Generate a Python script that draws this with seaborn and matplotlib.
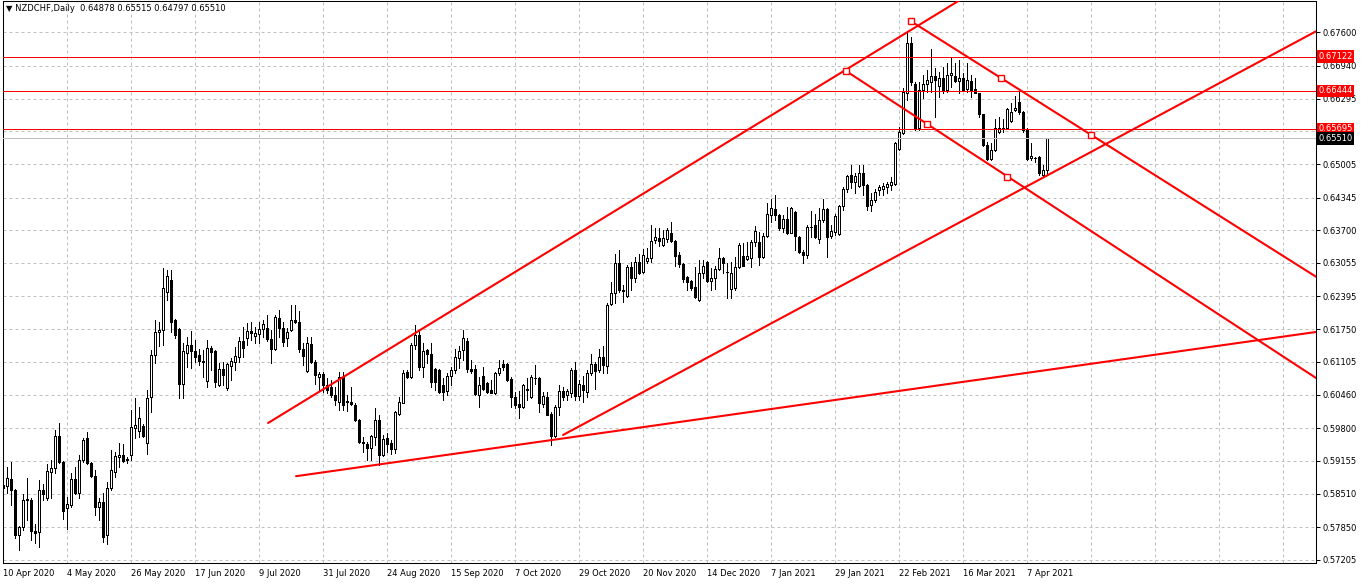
import numpy as np
import pandas as pd
import matplotlib
matplotlib.use("Agg")
import matplotlib.pyplot as plt
import matplotlib.transforms as mtransforms
import seaborn as sns

symbol = "NZDCHF,Daily"

# daily OHLC, 10 Apr 2020 .. mid Apr 2021
opens = [
    .5869, .5867, .5879, .5858, .5770, .5785, .5838, .5839, .5777, .5776,
    .5859, .5843, .5894, .5901, .5964, .5914, .5822, .5829, .5879, .5853,
    .5918, .5960, .5911, .5886, .5825, .5834, .5770, .5863, .5893, .5924,
    .5927, .5920, .5928, .5981, .5974, .5984, .5950, .6042, .6125, .6170,
    .6173, .6249, .6272, .6193, .6175, .6068, .6129, .6144, .6132, .6124,
    .6113, .6074, .6138, .6132, .6066, .6096, .6060, .6103, .6110, .6121,
    .6152, .6157, .6172, .6162, .6165, .6175, .6177, .6155, .6137, .6198,
    .6177, .6157, .6173, .6194, .6190, .6136, .6092, .6146, .6111, .6080,
    .6087, .6065, .6062, .6046, .6032, .6081, .6034, .6031, .6026, .5996,
    .5953, .5949, .5942, .5963, .5997, .5928, .5960, .5951, .5940, .6009,
    .6030, .6090, .6080, .6144, .6164, .6101, .6134, .6127, .6096, .6095,
    .6065, .6054, .6083, .6095, .6118, .6134, .6152, .6096, .6096, .6045,
    .6083, .6070, .6056, .6049, .6088, .6106, .6106, .6076, .6041, .6028,
    .6021, .6058, .6042, .6078, .6079, .6027, .6042, .6009, .5965, .6022,
    .6053, .6045, .6049, .6095, .6044, .6066, .6052, .6088, .6106, .6095,
    .6121, .6103, .6225, .6246, .6306, .6252, .6240, .6298, .6276, .6308,
    .6288, .6309, .6315, .6350, .6354, .6341, .6352, .6365, .6349, .6321,
    .6303, .6277, .6270, .6259, .6232, .6285, .6308, .6271, .6275, .6293,
    .6315, .6288, .6254, .6257, .6297, .6320, .6313, .6315, .6347, .6347,
    .6318, .6359, .6400, .6411, .6401, .6374, .6392, .6365, .6405, .6357,
    .6328, .6321, .6376, .6380, .6352, .6390, .6411, .6359, .6367, .6363,
    .6418, .6451, .6479, .6466, .6457, .6482, .6459, .6420, .6430, .6449,
    .6452, .6455, .6459, .6462, .6531, .6561, .6640, .6738, .6659, .6571,
    .6646, .6659, .6663, .6673, .6654, .6669, .6646, .6676, .6674, .6665,
    .6669, .6648, .6665, .6648, .6640, .6599, .6538, .6510, .6528, .6563,
    .6571, .6571, .6585, .6606, .6623, .6602, .6567, .6512, .6513, .6515,
    .6479, .64878,
]
highs = [
    .5891, .5904, .5914, .5860, .5788, .5851, .5882, .5842, .5792, .5878,
    .5870, .5909, .5917, .5976, .5991, .5916, .5844, .5891, .5904, .5927,
    .5960, .5973, .5914, .5898, .5842, .5852, .5874, .5937, .5934, .5951,
    .5948, .5924, .6016, .6039, .6022, .5989, .6055, .6134, .6193, .6190,
    .6295, .6292, .6292, .6196, .6178, .6147, .6160, .6172, .6154, .6137,
    .6134, .6154, .6142, .6134, .6108, .6111, .6109, .6118, .6140, .6160,
    .6179, .6187, .6190, .6180, .6190, .6193, .6203, .6173, .6203, .6213,
    .6190, .6177, .6223, .6223, .6210, .6147, .6160, .6160, .6114, .6091,
    .6091, .6078, .6075, .6062, .6091, .6091, .6045, .6062, .6029, .5999,
    .5963, .5953, .5967, .6019, .6006, .5967, .5970, .5957, .6013, .6042,
    .6095, .6095, .6147, .6183, .6174, .6147, .6137, .6147, .6098, .6096,
    .6078, .6088, .6101, .6137, .6141, .6174, .6157, .6114, .6104, .6081,
    .6101, .6072, .6075, .6091, .6114, .6114, .6109, .6081, .6052, .6054,
    .6068, .6078, .6085, .6104, .6081, .6052, .6052, .6012, .6026, .6065,
    .6062, .6058, .6098, .6111, .6075, .6083, .6094, .6127, .6111, .6137,
    .6141, .6226, .6269, .6324, .6331, .6262, .6302, .6308, .6318, .6324,
    .6334, .6336, .6380, .6374, .6374, .6370, .6375, .6386, .6351, .6328,
    .6305, .6280, .6272, .6298, .6311, .6311, .6310, .6295, .6299, .6336,
    .6318, .6305, .6308, .6318, .6344, .6344, .6347, .6351, .6378, .6367,
    .6364, .6423, .6431, .6439, .6403, .6400, .6416, .6416, .6407, .6359,
    .6331, .6380, .6407, .6403, .6413, .6431, .6413, .6380, .6403, .6420,
    .6456, .6479, .6499, .6482, .6499, .6499, .6462, .6443, .6452, .6459,
    .6463, .6466, .6475, .6544, .6574, .6650, .6758, .6751, .6663, .6663,
    .6676, .6686, .6728, .6689, .6682, .6692, .6699, .6712, .6699, .6705,
    .6679, .6699, .6676, .6669, .6641, .6600, .6544, .6541, .6590, .6594,
    .6590, .6610, .6620, .6634, .6643, .6604, .6571, .6541, .6515, .6517,
    .6498, .65515,
]
lows = [
    .5815, .5852, .5828, .5763, .5740, .5779, .5799, .5760, .5753, .5746,
    .5838, .5838, .5842, .5891, .5911, .5802, .5782, .5825, .5850, .5842,
    .5914, .5909, .5884, .5809, .5800, .5756, .5752, .5858, .5884, .5904,
    .5914, .5911, .5917, .5960, .5963, .5963, .5930, .6012, .6108, .6141,
    .6144, .6233, .6170, .6157, .6039, .6039, .6101, .6098, .6111, .6104,
    .6081, .6062, .6095, .6062, .6063, .6065, .6055, .6075, .6095, .6111,
    .6121, .6144, .6154, .6148, .6148, .6160, .6152, .6109, .6134, .6160,
    .6141, .6141, .6172, .6187, .6131, .6104, .6091, .6109, .6068, .6055,
    .6052, .6049, .6042, .6026, .6016, .6015, .6013, .6026, .5995, .5950,
    .5934, .5917, .5917, .5947, .5907, .5925, .5934, .5930, .5932, .6006,
    .6029, .6079, .6078, .6137, .6095, .6081, .6108, .6062, .6055, .6049,
    .6036, .6045, .6065, .6088, .6098, .6114, .6091, .6088, .6045, .6022,
    .6055, .6050, .6049, .6047, .6085, .6095, .6074, .6022, .6019, .6001,
    .6019, .6035, .6039, .6068, .6012, .6022, .6006, .5947, .5963, .6006,
    .6035, .6035, .6042, .6035, .6035, .6032, .6042, .6085, .6058, .6091,
    .6088, .6088, .6223, .6226, .6249, .6229, .6239, .6252, .6269, .6284,
    .6285, .6306, .6308, .6344, .6339, .6338, .6347, .6347, .6300, .6298,
    .6269, .6252, .6252, .6236, .6230, .6275, .6269, .6252, .6255, .6292,
    .6285, .6236, .6236, .6252, .6295, .6299, .6311, .6298, .6338, .6302,
    .6315, .6357, .6387, .6390, .6370, .6367, .6363, .6364, .6331, .6326,
    .6305, .6315, .6356, .6354, .6344, .6387, .6318, .6354, .6361, .6361,
    .6410, .6446, .6453, .6444, .6456, .6439, .6410, .6407, .6425, .6440,
    .6440, .6443, .6449, .6460, .6529, .6559, .6626, .6656, .6567, .6567,
    .6630, .6643, .6643, .6594, .6633, .6640, .6643, .6653, .6663, .6640,
    .6646, .6643, .6633, .6640, .6594, .6535, .6508, .6508, .6526, .6561,
    .6564, .6569, .6584, .6605, .6600, .6564, .6508, .6508, .6505, .6479,
    .6475, .64797,
]
closes = [
    .5863, .5881, .5859, .5770, .5786, .5838, .5840, .5778, .5774, .5859,
    .5851, .5896, .5901, .5964, .5914, .5817, .5830, .5879, .5852, .5918,
    .5957, .5911, .5886, .5825, .5834, .5765, .5863, .5897, .5925, .5927,
    .5916, .5917, .5983, .5987, .6001, .5965, .6039, .6125, .6170, .6173,
    .6256, .6280, .6190, .6164, .6068, .6132, .6144, .6133, .6121, .6113,
    .6110, .6139, .6131, .6072, .6096, .6085, .6106, .6112, .6123, .6152,
    .6139, .6172, .6167, .6167, .6175, .6185, .6155, .6137, .6200, .6177,
    .6150, .6170, .6194, .6190, .6137, .6122, .6147, .6111, .6085, .6087,
    .6065, .6055, .6046, .6036, .6080, .6026, .6031, .6028, .5996, .5953,
    .5950, .5942, .5965, .5997, .5927, .5959, .5949, .5939, .6011, .6032,
    .6088, .6081, .6144, .6164, .6101, .6133, .6127, .6072, .6072, .6052,
    .6052, .6083, .6095, .6120, .6133, .6157, .6096, .6093, .6047, .6065,
    .6058, .6051, .6050, .6088, .6099, .6100, .6075, .6042, .6026, .6021,
    .6066, .6055, .6081, .6079, .6029, .6043, .6007, .5965, .6022, .6053,
    .6042, .6053, .6095, .6044, .6067, .6056, .6089, .6106, .6093, .6121,
    .6104, .6223, .6246, .6306, .6252, .6250, .6298, .6276, .6307, .6286,
    .6322, .6315, .6349, .6356, .6349, .6355, .6370, .6349, .6319, .6303,
    .6273, .6269, .6257, .6238, .6285, .6299, .6271, .6275, .6293, .6315,
    .6305, .6287, .6286, .6298, .6341, .6300, .6320, .6347, .6368, .6318,
    .6359, .6403, .6413, .6400, .6374, .6392, .6365, .6413, .6359, .6328,
    .6321, .6377, .6377, .6356, .6390, .6411, .6357, .6369, .6398, .6418,
    .6451, .6477, .6466, .6477, .6482, .6459, .6418, .6430, .6445, .6456,
    .6458, .6461, .6466, .6541, .6564, .6643, .6738, .6663, .6571, .6646,
    .6659, .6666, .6673, .6666, .6669, .6644, .6676, .6679, .6665, .6669,
    .6647, .6666, .6646, .6641, .6599, .6538, .6510, .6528, .6571, .6572,
    .6570, .6608, .6602, .6610, .6602, .6567, .6510, .6517, .6512, .6482,
    .6489, .65510,
]

date_labels = ["10 Apr 2020", "4 May 2020", "26 May 2020", "17 Jun 2020", "9 Jul 2020",
               "31 Jul 2020", "24 Aug 2020", "15 Sep 2020", "7 Oct 2020", "29 Oct 2020",
               "20 Nov 2020", "14 Dec 2020", "7 Jan 2021", "29 Jan 2021", "22 Feb 2021",
               "16 Mar 2021", "7 Apr 2021"]
bars_per_label = 16

price_ticks = [0.67600, 0.66940, 0.66295, 0.65650, 0.65005, 0.64345, 0.63700, 0.63055,
               0.62395, 0.61750, 0.61105, 0.60460, 0.59800, 0.59155, 0.58510, 0.57850, 0.57205]
hidden_tick = 0.65650  # covered by the price boxes on the scale

level_prices = [0.67122, 0.66444, 0.65695]
bid_price = 0.65510

# trend lines as (bar, price) anchor pairs
rising_upper = ([66.25, 240.0], [0.59903, 0.68273])
rising_lower = ([140.0, 328.2], [0.59667, 0.67617])
support_line = ([73.25, 328.25], [0.58855, 0.61696])
falling_upper = ([226.9, 328.25], [0.67822, 0.62785])
falling_lower = ([210.75, 328.25], [0.66837, 0.60790])
anchor_bars = [226.9, 249.4, 272.0, 210.75, 230.9, 250.9]
anchor_prices = [0.67822, 0.66693, 0.65586, 0.66837, 0.65787, 0.64755]

df = pd.DataFrame({"open": opens, "high": highs, "low": lows, "close": closes})
df["bar"] = np.arange(len(df))

sns.set_style("white")
plt.rcParams["font.family"] = ["DejaVu Sans"]
plt.rcParams["font.size"] = 6

fig = plt.figure(figsize=(13.62, 5.84), dpi=100)
ax = fig.add_axes([2.7 / 1362, 21 / 584, 1313.3 / 1362, 562 / 584])

# grid first
ax.set_axisbelow(True)
ax.grid(True, color="#c0c0c0", linestyle=(0, (3, 3)), linewidth=0.72)

# candles: crisp 1px outlines like the terminal draws them
up = df["close"] >= df["open"]
body_low = np.minimum(df["open"], df["close"])
body_h = np.maximum((df["close"] - df["open"]).abs(), 0.00003)
ax.vlines(df["bar"], df["low"], df["high"], color="black", linewidth=0.72,
          antialiased=False, zorder=2)
ax.bar(df["bar"][up], body_h[up], bottom=body_low[up], width=0.5,
       facecolor="white", edgecolor="black", linewidth=0.72, antialiased=False, zorder=3)
ax.bar(df["bar"][~up], body_h[~up], bottom=body_low[~up], width=0.5,
       facecolor="black", edgecolor="black", linewidth=0.72, antialiased=False, zorder=3)

# horizontal levels (crisp 1px lines)
for p in level_prices:
    ax.axhline(p, color="#ff0000", linewidth=0.72, antialiased=False, zorder=4)
ax.axhline(bid_price, color="#c0c0c0", linewidth=0.72, antialiased=False, zorder=4)

# trend lines
for xs, ys in [rising_upper, rising_lower, support_line, falling_upper, falling_lower]:
    sns.lineplot(x=xs, y=ys, ax=ax, color="#ff0000", linewidth=1.5, zorder=5)
ax.plot(anchor_bars, anchor_prices, linestyle="none", marker="s", markersize=4,
        markerfacecolor="white", markeredgecolor="#ff0000", markeredgewidth=1, zorder=6)

ax.set_xlim(-0.1, 328.25)
ax.set_ylim(0.68236 - 0.000197 * 563, 0.68236 - 0.000197 * 1)
ax.set_xlabel("")
ax.set_ylabel("")

# axes / ticks
xt = list(range(0, 329, bars_per_label))
ax.set_xticks(xt)
ax.set_xticklabels(date_labels + [""] * (len(xt) - len(date_labels)))
for lab in ax.get_xticklabels():
    lab.set_horizontalalignment("left")
    lab.set_transform(lab.get_transform() + mtransforms.ScaledTranslation(1 / 100, 0, fig.dpi_scale_trans))
ax.set_yticks(price_ticks)
ax.set_yticklabels(["" if p == hidden_tick else f"{p:.5f}" for p in price_ticks])
ax.yaxis.tick_right()
ax.tick_params(axis="x", direction="out", length=3, width=0.75, pad=1.5, labelsize=6, colors="black")
ax.tick_params(axis="y", direction="out", length=3, width=0.75, pad=2, labelsize=6, colors="black")
for s in ax.spines.values():
    s.set_color("black")
    s.set_linewidth(0.75)

# price boxes on the scale
tr = mtransforms.blended_transform_factory(ax.transAxes, ax.transData)
for p in level_prices:
    ax.text(1.0017, p, f"{p:.5f}", transform=tr, ha="left", va="center", color="white",
            fontsize=6, clip_on=False, zorder=10,
            bbox=dict(boxstyle="square,pad=0.2", facecolor="#ff0000", edgecolor="none"))
ax.text(1.0017, bid_price, f"{bid_price:.5f}", transform=tr, ha="left", va="center", color="white",
        fontsize=6, clip_on=False, zorder=10,
        bbox=dict(boxstyle="square,pad=0.2", facecolor="black", edgecolor="none"))

# header
last = df.iloc[-1]
ax.text(0.0025, 0.986,
        f"\u25bc {symbol}  {last['open']:.5f} {last['high']:.5f} {last['low']:.5f} {last['close']:.5f}",
        transform=ax.transAxes, ha="left", va="center", fontsize=6, color="black", zorder=10)

fig.savefig("out.png", dpi=100)
